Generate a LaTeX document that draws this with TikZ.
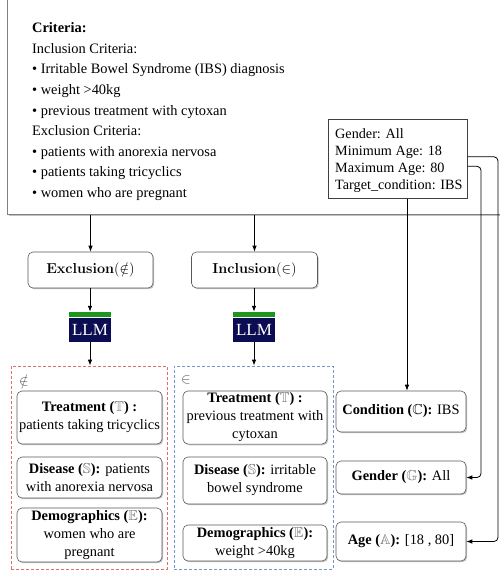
\documentclass[tikz,border=0pt]{standalone}
\usepackage{amssymb}
\usepackage[no-math]{fontspec}
\setmainfont{Liberation Serif}
\usetikzlibrary{arrows.meta,shadows}
\definecolor{llmnavy}{RGB}{12,12,82}
\definecolor{llmgreen}{RGB}{30,150,30}
\definecolor{exred}{RGB}{222,110,110}
\definecolor{inblue}{RGB}{115,150,210}
\newcommand{\bbg}[1]{\textcolor{black!55}{$\mathbb{#1}$}}
\begin{document}
\begin{tikzpicture}[x=1pt,y=-1pt,
  arr/.style={-{Latex[length=6pt,width=4.5pt]}, line width=0.8pt, black},
  rbox/.style={draw=black!65, line width=0.6pt, rounded corners=5pt, fill=white,
    drop shadow={shadow xshift=1.2pt, shadow yshift=-1.2pt, fill=black!40, opacity=0.6},
    align=center, inner xsep=1pt, inner ysep=2pt, font=\fontsize{14.4}{18}\selectfont},
  critbox/.style={draw=black!50, line width=0.7pt, fill=white,
    drop shadow={shadow xshift=1.2pt, shadow yshift=-1.5pt, fill=black!40, opacity=0.6}},
  llmbox/.style={fill=llmnavy, text=white, minimum width=42pt, minimum height=24pt, inner sep=0pt, font=\fontsize{17}{17}\selectfont},
  llmbar/.style={fill=llmgreen, minimum width=42pt, minimum height=5pt, inner sep=0pt},
  frame/.style={dash pattern=on 3pt off 2pt, line width=0.8pt, inner sep=0pt},
  setsym/.style={text=black!65, inner sep=0pt, font=\fontsize{14}{14}\selectfont},
  plain/.style={anchor=north west, inner sep=0pt, align=left}
]
\clip (0,0) rectangle (500,574);

% criteria box
\node[critbox, anchor=south west, minimum width=520pt, minimum height=240pt] (crit) at (7,215) {};
\node[plain, font=\fontsize{14.4}{20.6}\selectfont] (crittext) at (32,22.5) {\textbf{Criteria:}\\
Inclusion Criteria:\\
• Irritable Bowel Syndrome (IBS) diagnosis\\
• weight >40kg\\
• previous treatment with cytoxan\\
Exclusion Criteria:\\
• patients with anorexia nervosa\\
• patients taking tricyclics\\
• women who are pregnant};

% metadata box
\node[draw=black!75, line width=0.6pt, fill=white, minimum width=139pt, minimum height=79pt, anchor=north west, inner sep=0pt] (meta) at (328,119) {};
\node[plain, font=\fontsize{14.2}{17}\selectfont] (metatext) at (335,128.4) {Gender: All\\
Minimum Age: 18\\
Maximum Age: 80\\
Target\_condition: IBS};

% exclusion / inclusion
\node[rbox, minimum width=125pt, minimum height=36pt, font=\fontsize{14.4}{18}\selectfont] (excl) at (90.5,270) {$\mathbf{Exclusion}(\notin)$};
\node[rbox, minimum width=126pt, minimum height=36pt, font=\fontsize{14.4}{18}\selectfont] (incl) at (254.5,270) {$\mathbf{Inclusion}(\in)$};

% LLM blocks
\node[llmbar] (barA) at (90,314.5) {};
\node[llmbox] (llmA) at (90,330) {LLM};
\node[llmbar] (barB) at (254,314.5) {};
\node[llmbox] (llmB) at (254,330) {LLM};

% dashed frames
\node[frame, draw=exred, minimum width=156pt, minimum height=203pt] (exframe) at (89,467.5) {};
\node[frame, draw=inblue, minimum width=159pt, minimum height=203pt] (inframe) at (253.5,467.5) {};
\node[setsym] (exsym) at (24,380) {$\notin$};
\node[setsym] (insym) at (186,380) {$\in$};

% exclusion entities
\node[rbox, minimum width=145pt, minimum height=53pt] (exT) at (89.5,417.5) {\textbf{Treatment (}\bbg{T}\textbf{) :}\\ patients taking tricyclics};
\node[rbox, minimum width=145pt, minimum height=41pt] (exS) at (89.5,477.5) {\textbf{Disease (}\bbg{S}\textbf{):} patients\\ with anorexia nervosa};
\node[rbox, minimum width=145pt, minimum height=54pt] (exE) at (89.5,535) {\textbf{Demographics (}\bbg{E}\textbf{):}\\ women who are\\ pregnant};

% inclusion entities
\node[rbox, minimum width=144pt, minimum height=53pt] (inT) at (255,417.5) {\textbf{Treatment (}\bbg{T}\textbf{) :}\\ previous treatment with\\ cytoxan};
\node[rbox, minimum width=144pt, minimum height=47pt] (inS) at (255,480.5) {\textbf{Disease (}\bbg{S}\textbf{):} irritable\\ bowel syndrome};
\node[rbox, minimum width=144pt, minimum height=36pt] (inE) at (255,543) {\textbf{Demographics (}\bbg{E}\textbf{):}\\ weight >40kg};

% right entities
\node[rbox, minimum width=130pt, minimum height=41pt] (cond) at (401,411.5) {\textbf{Condition (}$\mathbb{C}$\textbf{):} IBS};
\node[rbox, minimum width=130pt, minimum height=33pt] (gender) at (401,477.5) {\textbf{Gender (}\bbg{G}\textbf{):} All};
\node[rbox, minimum width=130pt, minimum height=39pt] (age) at (401,541.5) {\textbf{Age (}\bbg{A}\textbf{):} [18 , 80]};

% connectors
\draw[arr] (crit.south -| excl.north) -- (excl.north);
\draw[arr] (crit.south -| incl.north) -- (incl.north);
\draw[arr] (excl.south -| barA.north) -- (barA.north);
\draw[arr] (incl.south -| barB.north) -- (barB.north);
\draw[arr] (llmA.south) -- (llmA.south |- exframe.north);
\draw[arr] (llmB.south) -- (llmB.south |- inframe.north);

\coordinate (minx) at (498,0);
\coordinate (maxx) at (481,0);
\coordinate (condx) at (407,0);
\draw[arr, rounded corners=4pt] ([yshift=2pt]meta.east) -| (minx |- age.east) -- (age.east);
\draw[arr, rounded corners=4pt] ([yshift=-7.5pt]meta.east) -| (maxx |- gender.east) -- (gender.east);
\draw[arr] (meta.south -| condx) -- (cond.north -| condx);
\end{tikzpicture}
\end{document}
